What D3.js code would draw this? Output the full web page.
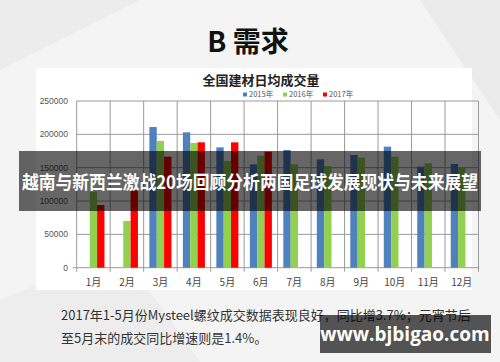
<!DOCTYPE html>
<html lang="zh">
<head>
<meta charset="UTF-8">
<title>全国建材日均成交量</title>
<script src="https://cdn.jsdelivr.net/npm/d3@7"></script>
<style>
  body { margin: 0; background: #f3f3f3; }
  svg { display: block; }
</style>
</head>
<body>
<div id="output"></div>
<script>

// data
var months = ["1月", "2月", "3月", "4月", "5月", "6月", "7月", "8月", "9月", "10月", "11月", "12月"];
var years = ["2015年", "2016年", "2017年"];
var v2015 = [null, null, 211000, 203000, 180500, 155000, 176500, 162500, 169000, 181500, 151500, 155500];
var v2016 = [114000, 70000, 190000, 187000, 160000, 168000, 155000, 152500, 165000, 166500, 156500, 150500];
var v2017 = [94000, 116000, 166500, 188000, 188000, 174000, null, null, null, null, null, null];
var yTicks = [0, 50000, 100000, 150000, 200000, 250000];
var colors = ["#4f81bd", "#92d050", "#ff0000"];

var w = 500, h = 362;
var cjk = "'Noto Sans CJK SC', 'Noto Sans', sans-serif";

var svg = d3.select("#output").append("svg")
    .attr("width", w)
    .attr("height", h);

// faint background shapes
svg.append("rect").attr("width", w).attr("height", h).attr("fill", "#f4f4f4");
svg.append("path").attr("d", "M0,0 L140,0 L0,70 Z").attr("fill", "#ececec");
svg.append("path").attr("d", "M420,0 L500,0 L500,120 Z").attr("fill", "#ebebeb");
svg.append("path").attr("d", "M0,300 L120,250 L200,362 L0,362 Z").attr("fill", "#ededed");
svg.append("rect").attr("x", 36).attr("y", 68).attr("width", 436).attr("height", 222).attr("fill", "#fff");

svg.append("text")
    .attr("x", 248).attr("y", 52)
    .attr("text-anchor", "middle")
    .style("font-family", cjk).style("font-size", "28px").style("font-weight", "bold")
    .attr("fill", "#111")
    .text("B 需求");

svg.append("text")
    .attr("x", 261).attr("y", 85)
    .attr("text-anchor", "middle")
    .style("font-family", cjk).style("font-size", "13px").style("font-weight", "bold")
    .attr("fill", "#222")
    .text("全国建材日均成交量");

// legend
var legend = svg.append("g");
years.forEach(function(y, i) {
    var g = legend.append("g").attr("transform", "translate(" + (243 + i * 40) + ",97)");
    g.append("rect").attr("x", 0).attr("y", -4.5).attr("width", 4).attr("height", 4).attr("fill", colors[i]);
    g.append("text").attr("x", 6).attr("y", 0)
        .style("font-family", cjk).style("font-size", "7.5px").attr("fill", "#555")
        .text(y);
});

var x = d3.scaleBand().domain(months).range([76.7, 478.5]);
var x1 = d3.scaleBand().domain(years).range([0, x.bandwidth()]).paddingOuter(0.78);
var y = d3.scaleLinear().domain([0, 250000]).range([267.7, 101]);

var chart = svg.append("g");

// gridlines
chart.selectAll(".hg").data(yTicks).enter().append("line")
    .attr("x1", 76.7).attr("x2", 478.5)
    .attr("y1", function(d) { return y(d); }).attr("y2", function(d) { return y(d); })
    .attr("stroke", "#9a9a9a").attr("stroke-width", 1);
chart.selectAll(".vg").data(months.concat(["end"])).enter().append("line")
    .attr("x1", function(d, i) { return 76.7 + i * x.step(); })
    .attr("x2", function(d, i) { return 76.7 + i * x.step(); })
    .attr("y1", y(250000)).attr("y2", y(0) + 4)
    .attr("stroke", "#9a9a9a").attr("stroke-width", 1);
chart.append("line").attr("x1", 72.7).attr("x2", 76.7)
    .attr("y1", y(0)).attr("y2", y(0)).attr("stroke", "#9a9a9a");

// bars
var series = [v2015, v2016, v2017];
series.forEach(function(vals, si) {
    chart.append("g").selectAll("rect")
        .data(vals.map(function(v, i) { return { m: months[i], v: v }; }).filter(function(d) { return d.v !== null; }))
        .enter().append("rect")
        .attr("x", function(d) { return x(d.m) + x1(years[si]); })
        .attr("width", x1.bandwidth())
        .attr("y", function(d) { return y(d.v); })
        .attr("height", function(d) { return y(0) - y(d.v); })
        .attr("fill", colors[si]);
});

// axes labels
chart.selectAll(".yl").data(yTicks).enter().append("text")
    .attr("x", 68).attr("y", function(d) { return y(d) + 3; })
    .attr("text-anchor", "end")
    .style("font-family", "'Liberation Sans', sans-serif").style("font-size", "8.5px")
    .attr("fill", "#555")
    .text(function(d) { return d; });

chart.selectAll(".xl").data(months).enter().append("text")
    .attr("x", function(d) { return x(d) + x.bandwidth() / 2; })
    .attr("y", 286)
    .attr("text-anchor", "middle")
    .style("font-family", cjk).style("font-size", "10px")
    .attr("fill", "#444")
    .text(function(d) { return d; });

// overlay banner
svg.append("rect").attr("x", 19).attr("y", 151).attr("width", 462).attr("height", 60)
    .attr("fill", "rgba(0,0,0,0.6)");
svg.append("text")
    .attr("x", 250).attr("y", 189)
    .attr("text-anchor", "middle")
    .attr("textLength", 456).attr("lengthAdjust", "spacingAndGlyphs")
    .style("font-family", cjk).style("font-size", "18.5px").style("font-weight", "bold")
    .attr("fill", "#fff")
    .text("越南与新西兰激战20场回顾分析两国足球发展现状与未来展望");

// caption
svg.append("text")
    .attr("x", 61).attr("y", 320)
    .style("font-family", cjk).style("font-size", "13px")
    .attr("fill", "#333")
    .text("2017年1-5月份Mysteel螺纹成交数据表现良好，同比增3.7%；元宵节后");
svg.append("text")
    .attr("x", 61).attr("y", 343)
    .style("font-family", cjk).style("font-size", "13px")
    .attr("fill", "#333")
    .text("至5月末的成交同比增速则是1.4%。");

// watermark
svg.append("rect").attr("x", 320).attr("y", 315).attr("width", 171).attr("height", 38)
    .attr("fill", "rgba(0,0,0,0.66)");
svg.append("text")
    .attr("x", 405).attr("y", 341)
    .attr("text-anchor", "middle")
    .style("font-family", "'Open Sans', 'DejaVu Sans', sans-serif").style("font-size", "19px").style("font-weight", "bold")
    .attr("fill", "#fff")
    .text("www.bjbigao.com");

</script>
</body>
</html>
